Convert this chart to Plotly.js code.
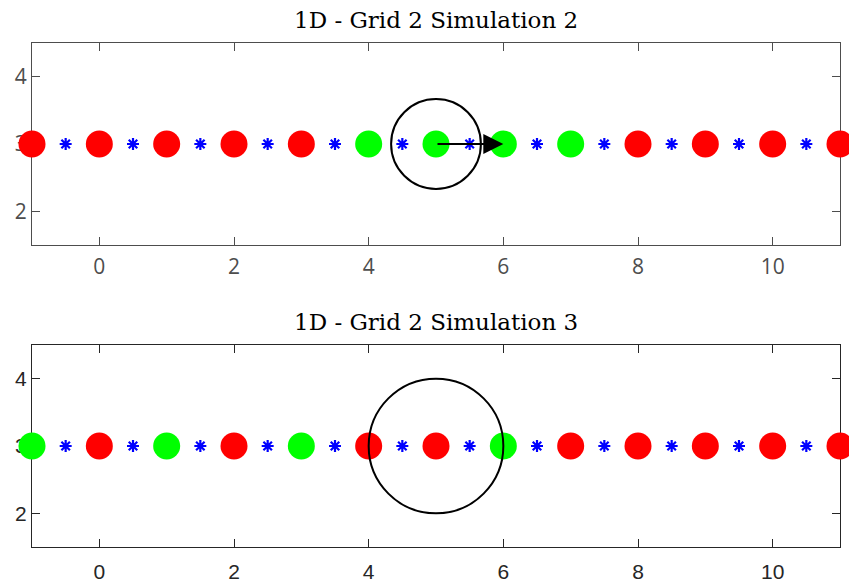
<!DOCTYPE html>
<html>
<head>
<meta charset="utf-8">
<script src="https://cdn.plot.ly/plotly-3.0.1.min.js"></script>
<style>html,body{margin:0;padding:0;background:#fff;}#chart{width:849px;height:583px;}</style>
</head>
<body>
<div id="chart"></div>
<script>
// ---- data ----
const nodeX = [-1, 0, 1, 2, 3, 4, 5, 6, 7, 8, 9, 10, 11];
const nodeY = [3, 3, 3, 3, 3, 3, 3, 3, 3, 3, 3, 3, 3];
const stateSim2 = ['R','R','R','R','R','G','G','G','G','R','R','R','R'];
const stateSim3 = ['G','R','G','R','G','R','R','G','R','R','R','R','R'];
const midX = [-0.5, 0.5, 1.5, 2.5, 3.5, 4.5, 5.5, 6.5, 7.5, 8.5, 9.5, 10.5];
const midY = [3, 3, 3, 3, 3, 3, 3, 3, 3, 3, 3, 3];
const titles = ['1D - Grid 2 Simulation 2', '1D - Grid 2 Simulation 3'];
const circleCenter = [5, 3];
const radiusSim2 = 2/3;
const radiusSim3 = 1;
const arrowStart = [5, 3];
const arrowEnd = [6, 3];
const xTicks = [0, 2, 4, 6, 8, 10];
const yTicks = [2, 3, 4];

// ---- styling ----
const colorMap = {R: '#ff0000', G: '#00ff00'};
function nodeTrace(states, xa, ya) {
  return {x: nodeX, y: nodeY, xaxis: xa, yaxis: ya, type: 'scatter', mode: 'markers',
    cliponaxis: false, hoverinfo: 'skip',
    marker: {size: 27, color: states.map(s => colorMap[s]), line: {width: 0}}};
}
function midTrace(xa, ya) {
  return {x: midX, y: midY, xaxis: xa, yaxis: ya, type: 'scatter', mode: 'markers',
    cliponaxis: false, hoverinfo: 'skip',
    marker: {symbol: 'asterisk', size: 10, color: '#0000ff', line: {color: '#0000ff', width: 2.2}}};
}
const data = [
  midTrace('x', 'y'), nodeTrace(stateSim2, 'x', 'y'),
  midTrace('x2', 'y2'), nodeTrace(stateSim3, 'x2', 'y2')
];

function xax(anchor, col, fam, standoff) {
  return {range: [-1, 11], tickvals: xTicks, ticks: 'inside', ticklen: 8, tickcolor: col,
    showline: true, linecolor: col, linewidth: 1, mirror: 'ticks', showgrid: false, zeroline: false,
    layer: 'below traces', ticklabelstandoff: standoff,
    anchor: anchor, domain: [0, 1], tickfont: {family: fam, size: 21, color: col}};
}
function yax(anchor, dom, col, fam) {
  return {range: [1.5, 4.5], tickvals: yTicks, ticks: 'inside', ticklen: 8, tickcolor: col,
    showline: true, linecolor: col, linewidth: 1, mirror: 'ticks', showgrid: false, zeroline: false,
    layer: 'below traces',
    anchor: anchor, domain: dom, tickfont: {family: fam, size: 21, color: col}};
}

const topFont = 'Open Sans, sans-serif';
const botFont = 'Liberation Sans, Arial, sans-serif';
const layout = {
  width: 849, height: 583,
  margin: {l: 32, r: 9, t: 43, b: 36},
  paper_bgcolor: '#fff', plot_bgcolor: '#fff',
  showlegend: false,
  xaxis: xax('y', '#4d4d4d', topFont, 3),
  yaxis: yax('x', [302/504, 1], '#4d4d4d', topFont),
  xaxis2: xax('y2', '#262626', botFont, 6),
  yaxis2: yax('x2', [0, 202/504], '#262626', botFont),
  shapes: [
    {type: 'circle', xref: 'x', yref: 'y',
     x0: circleCenter[0] - radiusSim2, x1: circleCenter[0] + radiusSim2,
     y0: circleCenter[1] - radiusSim2, y1: circleCenter[1] + radiusSim2,
     line: {color: '#000', width: 2}},
    {type: 'circle', xref: 'x2', yref: 'y2',
     x0: circleCenter[0] - radiusSim3, x1: circleCenter[0] + radiusSim3,
     y0: circleCenter[1] - radiusSim3, y1: circleCenter[1] + radiusSim3,
     line: {color: '#000', width: 2}}
  ],
  annotations: [
    {text: titles[0], xref: 'paper', yref: 'paper', x: 0.5, y: 1, yshift: 8,
     xanchor: 'center', yanchor: 'bottom', showarrow: false,
     font: {family: 'DejaVu Serif, serif', size: 23, color: '#000'}},
    {text: titles[1], xref: 'paper', yref: 'paper', x: 0.5, y: 202/504, yshift: 8,
     xanchor: 'center', yanchor: 'bottom', showarrow: false,
     font: {family: 'DejaVu Serif, serif', size: 23, color: '#000'}},
    {x: arrowEnd[0], y: arrowEnd[1], ax: arrowStart[0], ay: arrowStart[1],
     xref: 'x', yref: 'y', axref: 'x', ayref: 'y', text: '', showarrow: true,
     arrowhead: 2, arrowsize: 2, arrowwidth: 2, arrowcolor: '#000'}
  ]
};

Plotly.newPlot('chart', data, layout, {staticPlot: true, displayModeBar: false});
</script>
</body>
</html>
